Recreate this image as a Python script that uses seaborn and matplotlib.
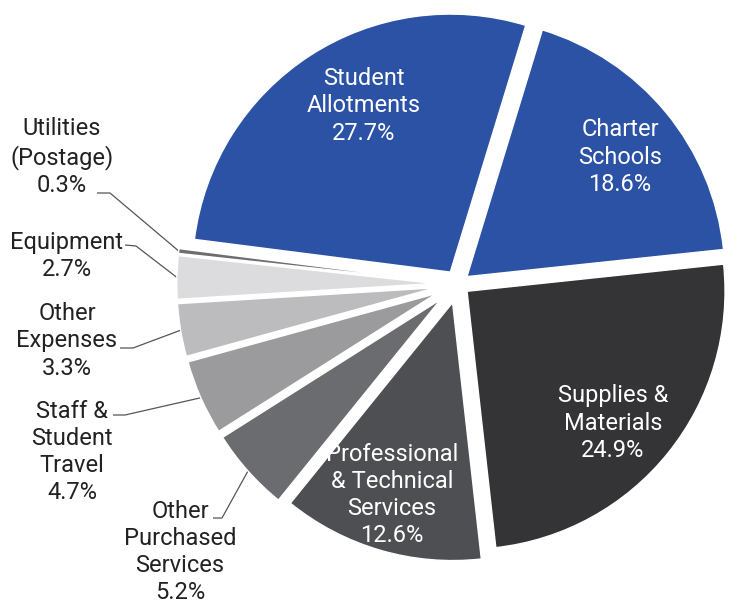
import matplotlib
matplotlib.use("Agg")
import matplotlib.pyplot as plt
import seaborn as sns
import numpy as np

# Spending categories, clockwise from the top
categories = [
    "Charter Schools", "Supplies & Materials", "Professional & Technical Services",
    "Other Purchased Services", "Staff & Student Travel", "Other Expenses",
    "Equipment", "Utilities (Postage)", "Student Allotments",
]
shares = [18.6, 24.9, 12.6, 5.2, 4.7, 3.3, 2.7, 0.3, 27.7]
label_text = [
    "Charter\nSchools", "Supplies &\nMaterials", "Professional\n& Technical\nServices",
    "Other\nPurchased\nServices", "Staff &\nStudent\nTravel", "Other\nExpenses",
    "Equipment", "Utilities\n(Postage)", "Student\nAllotments",
]

colors = ["#2c52a5", "#343437", "#4e4f52", "#6b6c6f", "#9b9b9d",
          "#bcbcbe", "#dcdcde", "#6e6e70", "#2c52a5"]
explode = [0.045, 0.045, 0.075, 0.09, 0.09, 0.09, 0.09, 0.09, 0.055]

sns.set_theme(style="white")
plt.rcParams["font.family"] = ["Roboto", "DejaVu Sans"]

W, H = 732, 606
CX, CY, R = 458, 284, 258  # pie centre and radius in pixels


def px(x, y):
    """Pixel position (from top-left) to data coordinates."""
    return (x - CX) / R, (CY - y) / R


fig = plt.figure(figsize=(W / 100, H / 100), dpi=100)
ax = fig.add_axes([0, 0, 1, 1])

wedges, _ = ax.pie(
    shares, colors=colors, explode=explode, startangle=73, counterclock=False,
    radius=1.0, wedgeprops=dict(edgecolor="white", linewidth=1.0),
)
ax.set_xlim(-CX / R, (W - CX) / R)
ax.set_ylim(-(H - CY) / R, CY / R)
ax.set_aspect("equal")
ax.axis("off")

# Labels inside the large slices (pixel positions of text centres)
inside_pos = {0: (620, 157), 1: (613, 423), 2: (392, 495), 8: (364, 106)}
for i, (x, y) in inside_pos.items():
    ax.text(*px(x, y), f"{label_text[i]}\n{shares[i]}%", color="white",
            fontsize=17, ha="center", va="center", linespacing=1.24)

# Labels outside the small slices, with elbow leader lines
outside = {
    7: ((62, 157), (97, 193), (110, 193)),
    6: ((67, 256), (125, 245), (136, 246)),
    5: ((67, 341), (120, 348), (133, 348)),
    4: ((72, 452), (113, 415), (125, 415)),
    3: ((180, 552), (213, 518), (222, 518)),
}
for i, (tpos, start, elbow) in outside.items():
    ax.text(*px(*tpos), f"{label_text[i]}\n{shares[i]}%", color="#222222",
            fontsize=17, ha="center", va="center", linespacing=1.24)
    w = wedges[i]
    mid = np.deg2rad((w.theta1 + w.theta2) / 2)
    cx, cy = w.center
    end = (cx + w.r * np.cos(mid), cy + w.r * np.sin(mid))
    p0, p1 = px(*start), px(*elbow)
    ax.plot([p0[0], p1[0], end[0]], [p0[1], p1[1], end[1]],
            color="#555555", linewidth=0.9, solid_capstyle="butt", zorder=0.5)

fig.savefig("out.png", dpi=100, facecolor="white")
